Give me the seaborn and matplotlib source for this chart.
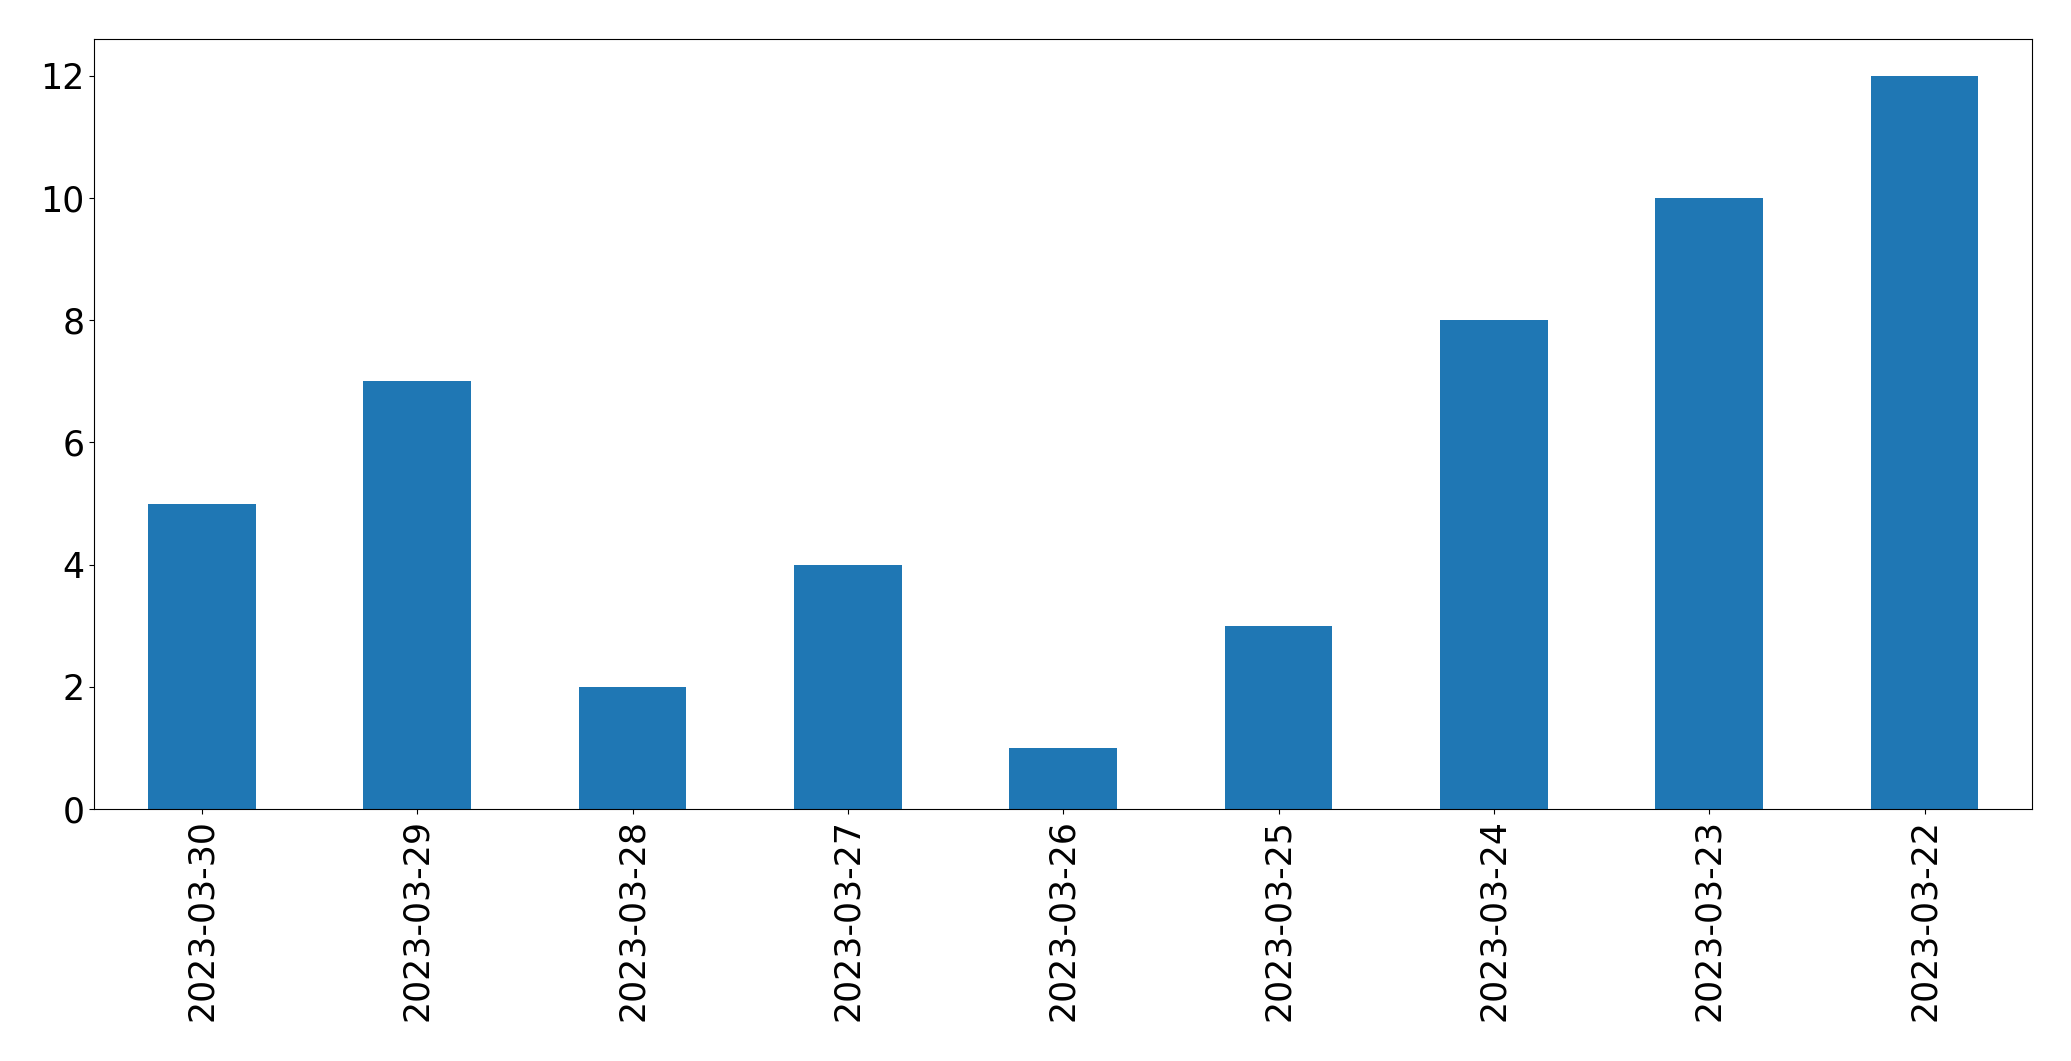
import matplotlib
matplotlib.use("Agg")
import matplotlib.pyplot as plt
import seaborn as sns
import pandas as pd

dates = ["2023-03-30", "2023-03-29", "2023-03-28", "2023-03-27", "2023-03-26",
         "2023-03-25", "2023-03-24", "2023-03-23", "2023-03-22"]
counts = [5, 7, 2, 4, 1, 3, 8, 10, 12]

df = pd.DataFrame({"date": dates, "count": counts})

fig = plt.figure(figsize=(20.71, 10.61), dpi=100)
ax = fig.add_axes([0.0455, 0.2375, 0.9358, 0.7255])

sns.barplot(data=df, x="date", y="count", order=dates, color="#1f77b4",
            saturation=1, width=0.5, linewidth=0, ax=ax)

ax.set_xlim(-0.5, len(dates) - 0.5)
ax.set_ylim(0, max(counts) * 1.05)
ax.set_yticks([0, 2, 4, 6, 8, 10, 12])
ax.set_xlabel("")
ax.set_ylabel("")
ax.tick_params(axis="both", labelsize=25)
plt.setp(ax.get_xticklabels(), rotation=90)

fig.savefig("out.png", dpi=100)
